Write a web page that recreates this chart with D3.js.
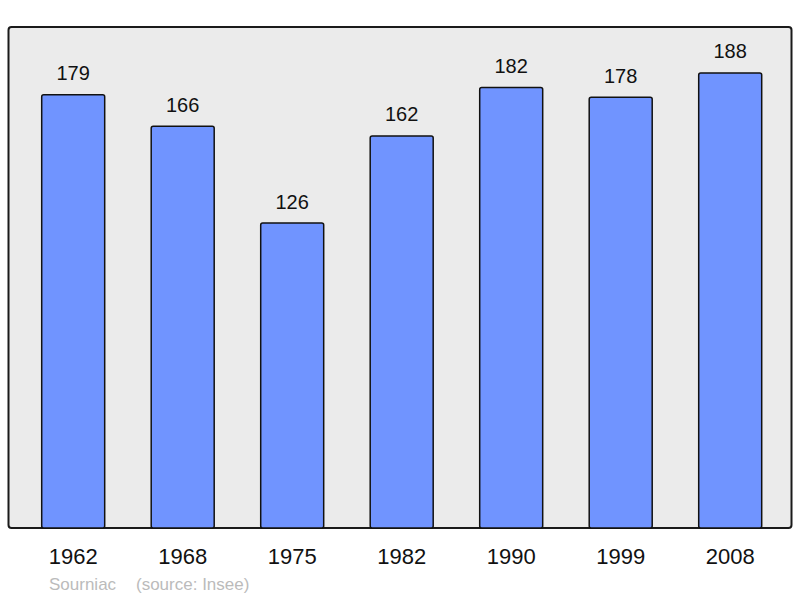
<!DOCTYPE html>
<html><head><meta charset="utf-8">
<script src="https://cdn.jsdelivr.net/npm/d3@7"></script>
<style>body{margin:0;background:#fff}svg{display:block}text{font-family:"Liberation Sans",Arial,sans-serif}</style>
</head><body>
<script>
const years = ["1962","1968","1975","1982","1990","1999","2008"];
const population = [179,166,126,162,182,178,188];
const caption = ["Sourniac", "(source: Insee)"];

const W = 800, H = 598;
const frame = {x0: 8.5, y0: 27, x1: 791.5, y1: 528};
const svg = d3.select("body").append("svg").attr("width", W).attr("height", H);

const x = d3.scaleBand().domain(years).range([41.7, 761.7]).paddingInner(0.4247).paddingOuter(0);
const y = d3.scaleLinear().domain([0, 207]).range([528, 27]);

svg.append("rect").attr("x", frame.x0).attr("y", frame.y0)
  .attr("width", frame.x1 - frame.x0).attr("height", frame.y1 - frame.y0)
  .attr("rx", 3).attr("fill", "#ebebeb").attr("stroke", "#1a1a1a").attr("stroke-width", 2);

const data = years.map((yr, i) => ({yr, v: population[i]}));

svg.selectAll("rect.bar").data(data).join("rect").attr("class", "bar")
  .attr("x", d => x(d.yr)).attr("width", x.bandwidth())
  .attr("y", d => y(d.v)).attr("height", d => y(0) - y(d.v))
  .attr("rx", 2).attr("fill", "#7094ff").attr("stroke", "#111").attr("stroke-width", 1.5);

svg.selectAll("text.val").data(data).join("text").attr("class", "val")
  .attr("x", d => x(d.yr) + x.bandwidth()/2).attr("y", d => y(d.v) - 14.5)
  .attr("text-anchor", "middle").attr("font-size", 20).attr("fill", "#111")
  .text(d => d.v);

const xAxis = d3.axisBottom(x).tickSize(0).tickPadding(0);
const ax = svg.append("g").attr("transform", "translate(0,548)").call(xAxis);
ax.select(".domain").remove();
ax.selectAll("text").attr("font-size", 22).attr("fill", "#111")
  .attr("font-family", "'Liberation Sans',Arial,sans-serif").attr("dy", "0.72em");

svg.append("text").attr("x", 49).attr("y", 590).attr("font-size", 17).attr("fill", "#bbb").text(caption[0]);
svg.append("text").attr("x", 136).attr("y", 590).attr("font-size", 17).attr("fill", "#bbb").text(caption[1]);
</script>
</body></html>
